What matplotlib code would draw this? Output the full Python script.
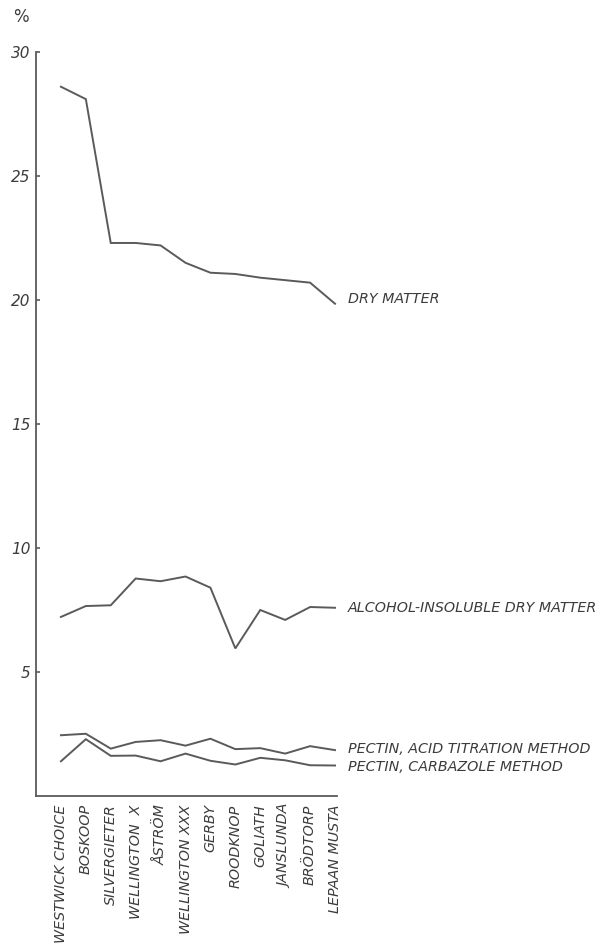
import matplotlib
matplotlib.use("Agg")
import matplotlib.pyplot as plt

varieties = ["WESTWICK CHOICE", "BOSKOOP", "SILVERGIETER", "WELLINGTON  X",
             "ÅSTRÖM", "WELLINGTON XXX", "GERBY", "ROODKNOP", "GOLIATH",
             "JANSLUNDA", "BRÖDTORP", "LEPAAN MUSTA"]

dry_matter = [28.6, 28.1, 22.3, 22.3, 22.2, 21.5, 21.1, 21.05, 20.9, 20.8, 20.7, 19.85]
alcohol_insoluble = [7.22, 7.66, 7.69, 8.77, 8.66, 8.85, 8.40, 5.95, 7.50, 7.10, 7.62, 7.59]
pectin_acid = [2.45, 2.51, 1.91, 2.18, 2.25, 2.03, 2.31, 1.89, 1.93, 1.71, 2.01, 1.85]
pectin_carbazole = [1.40, 2.29, 1.62, 1.63, 1.40, 1.71, 1.42, 1.27, 1.54, 1.44, 1.24, 1.23]

series = [
    (dry_matter, "DRY MATTER", 0.2),
    (alcohol_insoluble, "ALCOHOL-INSOLUBLE DRY MATTER", 0.0),
    (pectin_acid, "PECTIN, ACID TITRATION METHOD", 0.05),
    (pectin_carbazole, "PECTIN, CARBAZOLE METHOD", -0.08),
]

line_col = "#5a5a5a"
text_col = "#3c3c3c"

fig = plt.figure(figsize=(6.13, 9.46), dpi=100)
ax = fig.add_axes([36 / 613, 1 - 796 / 946, 301 / 613, 744 / 946])

x = list(range(len(varieties)))
for vals, name, dy in series:
    ax.plot(x, vals, color=line_col, lw=1.4, solid_joinstyle="miter")
    ax.text(x[-1] + 0.52, vals[-1] + dy, name, fontsize=10.3, style="italic",
            color=text_col, va="center", ha="left", clip_on=False)

ax.set_xlim(-1, 11.08)
ax.set_ylim(0, 30)
ax.set_yticks([5, 10, 15, 20, 25, 30])
ax.set_xticks(x)
ax.set_xticklabels(varieties, rotation=90, fontsize=10.3, style="italic",
                   color=text_col, va="top", ha="center")
ax.tick_params(axis="x", length=0, pad=6)
ax.tick_params(axis="y", direction="in", length=3, width=1.2, colors=line_col,
               labelcolor=text_col, labelsize=11, pad=4)
for lab in ax.get_yticklabels():
    lab.set_style("italic")

for s in ["top", "right"]:
    ax.spines[s].set_visible(False)
for s in ["left", "bottom"]:
    ax.spines[s].set_color(line_col)
    ax.spines[s].set_linewidth(1.3)

fig.text(13 / 613, 1 - 17 / 946, "%", fontsize=12, color=text_col,
         ha="left", va="center")

fig.savefig("out.png", dpi=100)
